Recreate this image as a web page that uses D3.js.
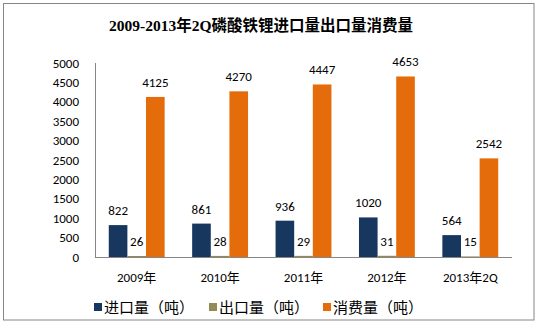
<!DOCTYPE html>
<html>
<head>
<meta charset="utf-8">
<script src="https://cdn.jsdelivr.net/npm/d3@7"></script>
<style>
body { margin: 0; background: #fff; }
svg text { font-family: Calibri, "Liberation Sans", "Noto Sans CJK SC", sans-serif; fill: #000; }
</style>
</head>
<body>
<div id="chart"></div>
<script>
var years = ["2009年", "2010年", "2011年", "2012年", "2013年2Q"];
var seriesNames = ["进口量（吨）", "出口量（吨）", "消费量（吨）"];
var importVals = [822, 861, 936, 1020, 564];
var exportVals = [26, 28, 29, 31, 15];
var consumeVals = [4125, 4270, 4447, 4653, 2542];
var yTicks = [0, 500, 1000, 1500, 2000, 2500, 3000, 3500, 4000, 4500, 5000];
var colors = ["#17375E", "#948A54", "#E46C0A"];

var W = 537, H = 326;
var svg = d3.select("#chart")
	.append("svg")
	.attr("width", W)
	.attr("height", H);

// frame
svg.append("rect")
	.attr("x", 3.5)
	.attr("y", 3.5)
	.attr("width", 530.5)
	.attr("height", 316.5)
	.attr("fill", "#fff")
	.attr("stroke", "#868686")
	.attr("stroke-width", 1);

// title
svg.append("text")
	.attr("x", 261)
	.attr("y", 30.5)
	.attr("text-anchor", "middle")
	.style("font-family", "'Liberation Serif', 'Noto Sans CJK SC', serif")
	.style("font-size", "15.5px")
	.style("font-weight", "bold")
	.text("2009-2013年2Q磷酸铁锂进口量出口量消费量");

var x0 = d3.scaleBand()
	.domain(years)
	.range([95, 512])
	.paddingInner(0.33)
	.paddingOuter(0.165);

var x1 = d3.scaleBand()
	.domain([0, 1, 2])
	.range([0, x0.bandwidth()]);

var y = d3.scaleLinear()
	.domain([0, 5000])
	.range([257, 63]);

// y axis labels
svg.append("g")
	.selectAll("text")
	.data(yTicks)
	.enter()
	.append("text")
	.attr("x", 79)
	.attr("y", function(d) { return y(d) + 4.5; })
	.attr("text-anchor", "end")
	.style("font-size", "13px")
	.text(function(d) { return d; });

svg.append("line")
	.attr("x1", 95.5).attr("x2", 95.5)
	.attr("y1", y(5000)).attr("y2", y(0))
	.attr("stroke", "#868686");

var rows = years.map(function(d, i)
{
	return [importVals[i], exportVals[i], consumeVals[i]];
});

var groups = svg.selectAll(".grp")
	.data(rows)
	.enter()
	.append("g")
	.attr("class", "grp")
	.attr("transform", function(d, i) { return "translate(" + x0(years[i]) + ",0)"; });

groups.selectAll("rect")
	.data(function(d) { return d; })
	.enter()
	.append("rect")
	.attr("x", function(d, j) { return x1(j); })
	.attr("width", x1.bandwidth())
	.attr("y", function(d) { return y(d); })
	.attr("height", function(d) { return y(0) - y(d); })
	.attr("fill", function(d, j) { return colors[j]; });

groups.selectAll("text")
	.data(function(d) { return d; })
	.enter()
	.append("text")
	.attr("x", function(d, j) { return x1(j) + x1.bandwidth() / 2; })
	.attr("y", function(d) { return y(d) - 10; })
	.attr("text-anchor", "middle")
	.style("font-size", "13px")
	.text(function(d) { return d; });

// x axis
svg.append("line")
	.attr("x1", 95).attr("x2", 512)
	.attr("y1", 257.5).attr("y2", 257.5)
	.attr("stroke", "#868686");

svg.append("g")
	.selectAll("text")
	.data(years)
	.enter()
	.append("text")
	.attr("x", function(d) { return x0(d) + x0.bandwidth() / 2; })
	.attr("y", 282)
	.attr("text-anchor", "middle")
	.style("font-size", "13px")
	.text(function(d) { return d; });

// legend
var legX = [94, 209, 323];
var leg = svg.append("g")
	.selectAll("g")
	.data(seriesNames)
	.enter()
	.append("g")
	.attr("transform", function(d, i) { return "translate(" + legX[i] + ",307)"; });

leg.append("rect")
	.attr("x", 0)
	.attr("y", -4)
	.attr("width", 8)
	.attr("height", 8)
	.attr("fill", function(d, i) { return colors[i]; });

leg.append("text")
	.attr("x", 10)
	.attr("y", 5.5)
	.style("font-size", "15px")
	.text(function(d) { return d; });
</script>
</body>
</html>
